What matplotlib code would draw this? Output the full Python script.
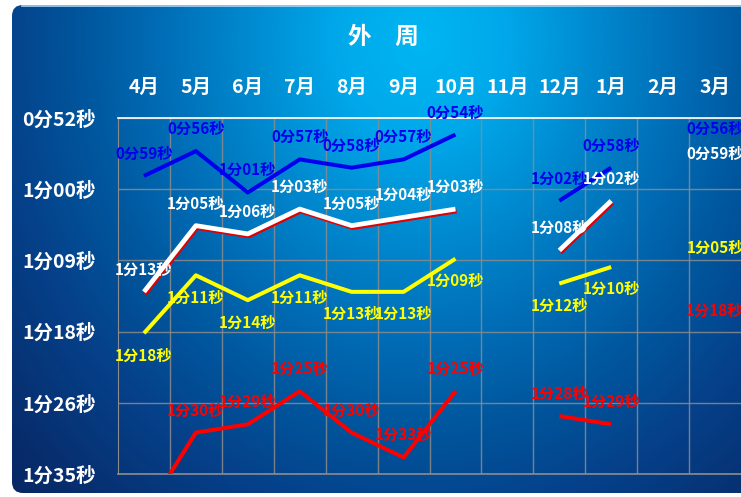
import numpy as np
import matplotlib
matplotlib.use("Agg")
import matplotlib.pyplot as plt
from matplotlib.patches import FancyBboxPatch
from matplotlib.colors import LinearSegmentedColormap
import matplotlib.patheffects as pe

plt.rcParams['font.family'] = ['Noto Sans CJK SC', 'DejaVu Sans']

# ---------------- data ----------------
months = ['4月', '5月', '6月', '7月', '8月', '9月', '10月', '11月', '12月', '1月', '2月', '3月']
nan = np.nan
blue_s = [59, 56, 61, 57, 58, 57, 54, nan, 62, 58, nan, 56]
white_s = [73, 65, 66, 63, 65, 64, 63, nan, 68, 62, nan, 59]
yellow_s = [78, 71, 74, 71, 73, 73, 69, nan, 72, 70, nan, 65]
red_s = [100, 90, 89, 85, 90, 93, 85, nan, 88, 89, nan, 78]
ytick_vals = [52, 60.6, 69.2, 77.8, 86.4, 95]
ytick_labels = ['0分52秒', '1分00秒', '1分09秒', '1分18秒', '1分26秒', '1分35秒']
title = '外　周'

W, H = 741, 497
fig = plt.figure(figsize=(W / 100, H / 100), dpi=100, facecolor='white')

# ---------------- background panel ----------------
bg = fig.add_axes([0, 0, 1, 1])
bg.set_xlim(0, W)
bg.set_ylim(H, 0)
bg.axis('off')
yy, xx = np.mgrid[0:H, 0:W]
cx, cy = 420, 40
d = np.sqrt(((xx - cx) / 420.0) ** 2 + ((yy - cy) / 480.0) ** 2)
cmap = LinearSegmentedColormap.from_list('bgc', [
    (0.0, '#00B6F2'), (0.125, '#00A8EA'), (0.2625, '#0088CE'), (0.3875, '#006DB6'),
    (0.5, '#00579E'), (0.625, '#05418A'), (0.8125, '#082A68'), (1.0, '#061E55')])
img = bg.imshow(d / 1.6, cmap=cmap, vmin=0, vmax=1, extent=(0, W, H, 0),
                aspect='auto', interpolation='bilinear')
panel = FancyBboxPatch((12, 5), 800, 488, boxstyle='round,pad=0,rounding_size=11',
                       transform=bg.transData, facecolor='none', edgecolor='none')
bg.add_patch(panel)
img.set_clip_path(panel)
bg.plot([22, W], [5.5, 5.5], color='#A9D3F0', lw=1.2)

fig.text(383 / W, 1 - 37 / H, title, color='white', fontsize=17, fontweight='bold',
         ha='center', va='center')

# ---------------- main axes ----------------
x0, x1, ytop, ybot = 118, 741, 118, 474
ax = fig.add_axes([x0 / W, 1 - ybot / H, (x1 - x0) / W, (ybot - ytop) / H])
ax.set_facecolor('none')
x = np.arange(len(months))
ax.set_xlim(-0.5, len(months) - 0.5)
ax.set_ylim(ytick_vals[-1], ytick_vals[0])

ax.xaxis.tick_top()
ax.set_xticks(x, months)
ax.set_xticks(np.arange(0.5, len(months) - 0.5, 1), minor=True)
ax.set_yticks(ytick_vals, ytick_labels)
ax.tick_params(axis='x', which='major', length=0, pad=15, labelcolor='white', labelsize=14)
ax.tick_params(axis='x', which='minor', length=0)
ax.tick_params(axis='y', length=0, pad=16, labelcolor='white', labelsize=14)
for lab in ax.get_xticklabels() + ax.get_yticklabels():
    lab.set_fontweight('bold')
ax.grid(True, axis='x', which='minor', color='#8C8C8C', lw=1.0, alpha=0.85)
ax.grid(True, axis='y', which='major', color='#8C8C8C', lw=1.0, alpha=0.85)
ax.spines['right'].set_visible(False)
ax.spines['top'].set_color('white')
ax.spines['top'].set_linewidth(1.2)
ax.spines['left'].set_color('#8C8C8C')
ax.spines['bottom'].set_color('#8C8C8C')
ax.spines['bottom'].set_linewidth(1.2)

ax.plot(x, blue_s, color='#0000EE', lw=2.9, solid_capstyle='butt', zorder=3)
ax.plot(x, white_s, color='white', lw=3.4, solid_capstyle='butt', zorder=3,
        path_effects=[pe.Stroke(offset=(0.8, -1.4), linewidth=3.4, foreground='#E00000'),
                      pe.Normal()])
ax.plot(x, yellow_s, color='#FFFF00', lw=2.9, solid_capstyle='butt', zorder=3)
ax.plot(x, red_s, color='#FF0000', lw=2.9, solid_capstyle='butt', zorder=3)


def fmt(v):
    v = int(round(v))
    return f'{v // 60}分{v % 60:02d}秒'


for series, col, off in [(blue_s, '#0000EE', 16), (white_s, 'white', 16),
                         (yellow_s, '#FFFF00', -16), (red_s, '#FF0000', 16)]:
    for xi, v in zip(x, series):
        if np.isnan(v):
            continue
        ax.annotate(fmt(v), (xi, v), xytext=(0, off), textcoords='offset points',
                    ha='center', va='center', color=col, fontsize=11, fontweight='bold',
                    annotation_clip=True, clip_on=False, zorder=4)

fig.savefig('out.png', dpi=100, facecolor='white')
